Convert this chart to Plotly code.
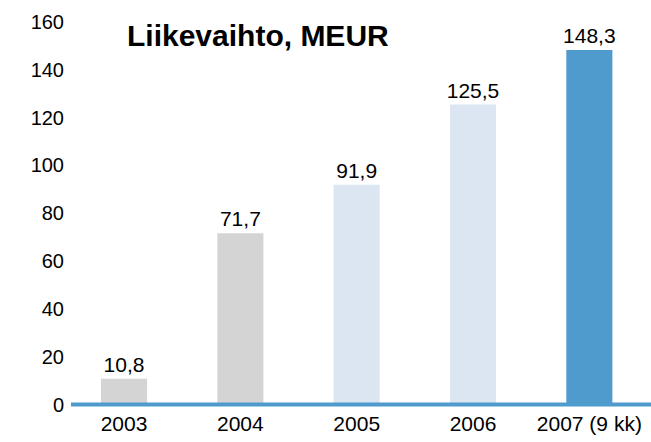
import plotly.graph_objects as go

categories = ["2003", "2004", "2005", "2006", "2007 (9 kk)"]
values = [10.8, 71.7, 91.9, 125.5, 148.3]
bar_colors = ["#D4D4D4", "#D4D4D4", "#DCE6F2", "#DCE6F2", "#4F9BCE"]
y_ticks = [0, 20, 40, 60, 80, 100, 120, 140, 160]
title_text = "Liikevaihto, MEUR"

font_family = "Liberation Sans, Arial, sans-serif"

fig = go.Figure(
    go.Bar(
        x=categories,
        y=values,
        marker=dict(color=bar_colors, line=dict(width=0)),
        texttemplate="%{y:.1f}",
        textposition="outside",
        constraintext="none",
        textfont=dict(size=21, color="#000000", family=font_family),
        cliponaxis=False,
    )
)

fig.add_shape(
    type="line", xref="paper", yref="y", x0=0, x1=1, y0=0, y1=0,
    line=dict(color="#4F9BCE", width=4), layer="above",
)

fig.add_annotation(
    text="<b>" + title_text + "</b>", xref="paper", yref="paper",
    x=0.093, y=0.966, xanchor="left", yanchor="middle", showarrow=False,
    font=dict(size=30, color="#000000", family=font_family),
)

fig.update_layout(
    width=651, height=442,
    margin=dict(l=71, r=0, t=22, b=35),
    paper_bgcolor="white", plot_bgcolor="white",
    separators=", ",
    bargap=0.604,
    showlegend=False,
    font=dict(family=font_family, size=20, color="#000000"),
    xaxis=dict(
        range=[-0.456, 4.53], showgrid=False, showline=False, zeroline=False,
        ticks="", tickfont=dict(size=21), fixedrange=True, ticklabelstandoff=2,
    ),
    yaxis=dict(
        range=[-1, 160], tickvals=y_ticks, showgrid=False, showline=False,
        zeroline=False, ticks="", tickfont=dict(size=20), ticklabelstandoff=6,
        fixedrange=True,
    ),
)

fig.write_html(
    "out.html",
    config={"displayModeBar": False},
    post_script="document.body.style.margin='0';document.body.style.padding='0';",
)
